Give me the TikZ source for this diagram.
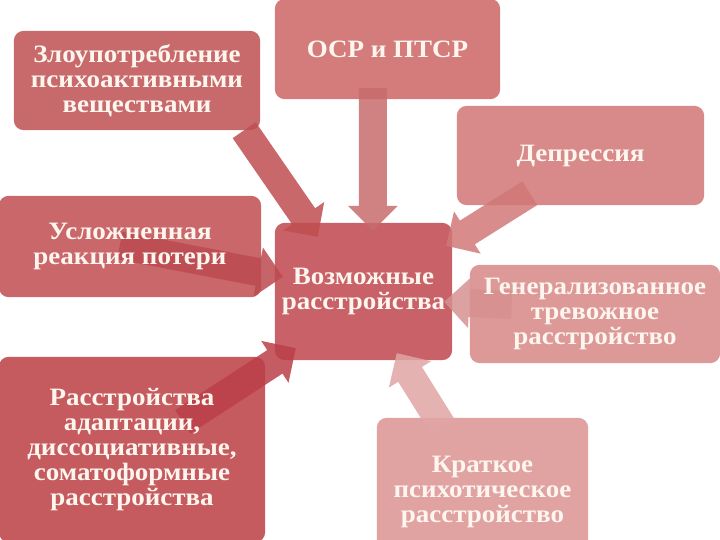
\documentclass[tikz,border=0pt]{standalone}
\usepackage{fontspec}
\setmainfont{Liberation Serif}[FakeStretch=1.08]
\usetikzlibrary{calc}
\pgfdeclarelayer{bg}
\pgfdeclarelayer{mid}
\pgfsetlayers{bg,mid,main}
\definecolor{txt}{HTML}{FDF6EE}
\definecolor{b1}{HTML}{C86A6C}
\definecolor{b2}{HTML}{D47C7C}
\definecolor{b3}{HTML}{D88A8A}
\definecolor{b4}{HTML}{C9676A}
\definecolor{b5}{HTML}{C86268}
\definecolor{b6}{HTML}{DD9898}
\definecolor{b7}{HTML}{C55A5F}
\definecolor{b8}{HTML}{E1A2A2}
\definecolor{a1}{HTML}{C04E50}
\definecolor{a2}{HTML}{C86C6C}
\definecolor{a3}{HTML}{D17878}
\definecolor{a4}{HTML}{BC4A4F}
\definecolor{a6}{HTML}{D69090}
\definecolor{a7}{HTML}{BB4049}
\definecolor{a8}{HTML}{E0A5A5}
\newcommand{\blkarrow}[3]{%
  \coordinate (bb) at ($(#2)!25pt!(#1)$);
  \fill[arr,#3] ($(#1)!14pt!90:(#2)$) -- ($(bb)!14pt!-90:(#1)$) -- ($(bb)!25pt!-90:(#1)$) -- (#2)
     -- ($(bb)!25pt!90:(#1)$) -- ($(bb)!14pt!90:(#1)$) -- ($(#1)!14pt!-90:(#2)$) -- cycle;}
\begin{document}
\begin{tikzpicture}[x=1pt,y=-1pt,
  box/.style={rectangle, inner sep=0pt, align=center, text=txt,
    font=\fontsize{25}{25}\selectfont\bfseries},
  arr/.style={fill opacity=0.85},
  rbox/.style={rounded corners=10pt}]
\useasboundingbox (0,0) rectangle (720,540);
\node[box, minimum width=246pt, minimum height=99pt] (n1) at (137,80.5) {Злоупотребление\\психоактивными\\веществами};
\node[box, minimum width=225pt, minimum height=100pt] (n2) at (387.5,49) {ОСР и ПТСР};
\node[box, minimum width=247pt, minimum height=99pt] (n3) at (580.5,155.5) {Депрессия};
\node[box, minimum width=262pt, minimum height=101pt] (n4) at (130,246.5) {Усложненная\\реакция потери};
\node[box, minimum width=177pt, minimum height=137pt] (c) at (363.5,291.5) {Возможные\\расстройства};
\node[box, minimum width=250pt, minimum height=98pt] (n6) at (595,314) {Генерализованное\\тревожное\\расстройство};
\node[box, minimum width=266pt, minimum height=185pt] (n7) at (132,449.5) {Расстройства\\адаптации,\\диссоциативные,\\соматоформные\\расстройства};
\node[box, minimum width=211pt, minimum height=148pt] (n8) at (482.5,492) {Краткое\\психотическое\\расстройство};
\begin{pgfonlayer}{bg}
\fill[b1,rbox] (n1.south west) rectangle (n1.north east);
\fill[b2,rbox] (n2.south west) rectangle (n2.north east);
\fill[b3,rbox] (n3.south west) rectangle (n3.north east);
\fill[b4,rbox] (n4.south west) rectangle (n4.north east);
\fill[b5,rbox] (c.south west) rectangle (c.north east);
\fill[b6,rbox] (n6.south west) rectangle (n6.north east);
\fill[b7,rbox] (n7.south west) rectangle (n7.north east);
\fill[b8,rbox] (n8.south west) rectangle (n8.north east);
\end{pgfonlayer}
\begin{pgfonlayer}{mid}
\coordinate (s1) at ($(n1.south east)+(-16,0)$);
\coordinate (t1) at ($(c.north west)+(43,14)$);
\coordinate (s2) at ($(n2.south west)+(98,-11)$);
\coordinate (t2) at ($(c.north west)+(98,8)$);
\coordinate (s3) at ($(n3.south west)+(73,-12)$);
\coordinate (t3) at ($(c.north east)+(-6,23)$);
\coordinate (s4) at ($(n4.west)+(121,-1)$);
\coordinate (t4) at ($(c.north west)+(8,54)$);
\coordinate (s6) at ($(n6.west)+(42,-9)$);
\coordinate (t6) at ($(c.north east)+(-8,79)$);
\coordinate (s7) at ($(n7.north west)+(184,65)$);
\coordinate (t7) at ($(c.south west)+(21,-12)$);
\coordinate (s8) at ($(n8.north west)+(66,9)$);
\coordinate (t8) at ($(c.south west)+(122,-7)$);
\blkarrow{s1}{t1}{a1}
\blkarrow{s2}{t2}{a2}
\blkarrow{s3}{t3}{a3}
\blkarrow{s4}{t4}{a4}
\blkarrow{s6}{t6}{a6}
\blkarrow{s7}{t7}{a7}
\blkarrow{s8}{t8}{a8}
\end{pgfonlayer}
\end{tikzpicture}
\end{document}
